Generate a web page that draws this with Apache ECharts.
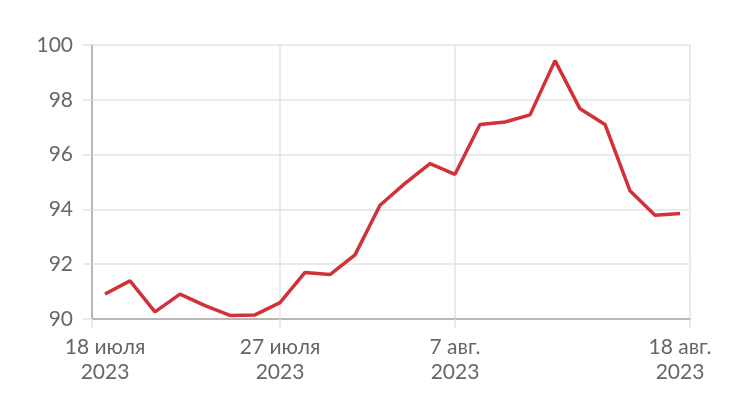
<!DOCTYPE html>
<html>
<head>
<meta charset="utf-8">
<script src="https://cdn.jsdelivr.net/npm/echarts@6/dist/echarts.min.js"></script>
<style>
  html, body { margin: 0; padding: 0; background: #fff; }
  #chart { width: 747px; height: 418px; }
</style>
</head>
<body>
<div id="chart"></div>
<script>
// торговые дни 18 июля - 18 авг. 2023
const dates = [
  '18.07', '19.07', '20.07', '21.07', '24.07', '25.07', '26.07', '27.07', '28.07', '31.07',
  '01.08', '02.08', '03.08', '04.08', '07.08', '08.08', '09.08', '10.08', '11.08', '14.08',
  '15.08', '16.08', '17.08', '18.08'
]
const values = [
  90.91, 91.39, 90.26, 90.91, 90.49, 90.13, 90.15, 90.6, 91.7, 91.62,
  92.34, 94.15, 94.95, 95.67, 95.28, 97.1, 97.19, 97.45, 99.43, 97.67,
  97.1, 94.68, 93.79, 93.85
]
const labelIdx = [0, 7, 14, 23]
const labelText = ['18 июля\n2023', '27 июля\n2023', '7 авг.\n2023', '18 авг.\n2023']
const yTicks = [90, 92, 94, 96, 98, 100]

const chart = echarts.init(document.getElementById('chart'))

const fontFamily = 'Lato, "Open Sans", sans-serif'
const textColor = '#666'
const axisColor = '#a6a6a6'
const gridColor = '#e3e3e3'

const option = {
  animation: false,
  grid: { left: 92, right: 57, top: 45, bottom: 99 },
  xAxis: {
    type: 'value',
    min: -0.52,
    max: 23.4,
    axisLine: { show: true, onZero: false, lineStyle: { color: axisColor, width: 1.5 } },
    axisTick: {
      show: true,
      length: 9,
      customValues: [-0.52, 7, 14, 23.4],
      lineStyle: { color: gridColor, width: 1.5 }
    },
    splitLine: { show: true, lineStyle: { color: gridColor, width: 1.5 } },
    axisLabel: {
      customValues: labelIdx,
      margin: 16,
      color: textColor,
      fontFamily: fontFamily,
      fontSize: 21,
      lineHeight: 25,
      formatter: v => labelText[labelIdx.indexOf(Math.round(v))] || ''
    }
  },
  yAxis: {
    type: 'value',
    min: yTicks[0],
    max: yTicks[yTicks.length - 1],
    interval: 2,
    axisLine: { show: true, onZero: false, lineStyle: { color: axisColor, width: 1.5 } },
    axisTick: { show: true, length: 9, lineStyle: { color: gridColor, width: 1.5 } },
    splitLine: { show: true, lineStyle: { color: gridColor, width: 1.5 } },
    axisLabel: {
      margin: 19,
      color: textColor,
      fontFamily: fontFamily,
      fontSize: 21
    }
  },
  series: [
    {
      type: 'line',
      data: values.map((v, i) => [i, v]),
      symbol: 'none',
      lineStyle: { color: '#d03238', width: 3.5 },
      z: 5
    }
  ]
}

chart.setOption(option)
</script>
</body>
</html>
